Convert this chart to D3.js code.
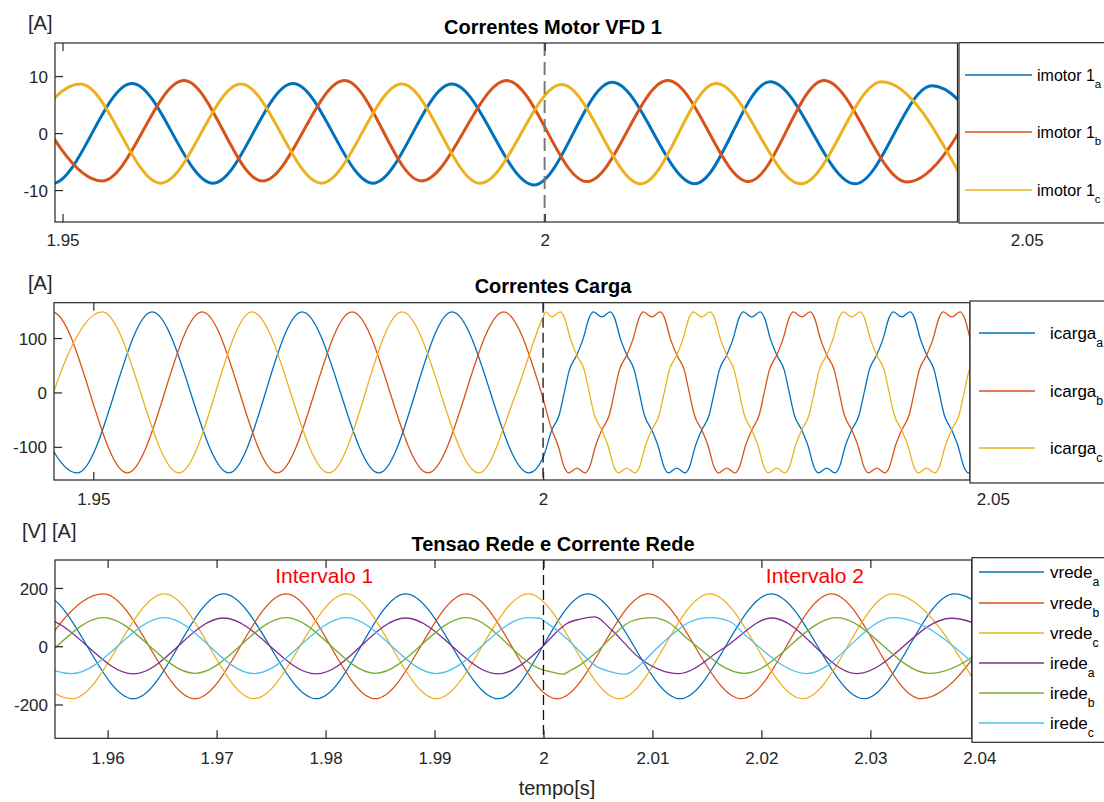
<!DOCTYPE html>
<html><head><meta charset="utf-8">
<script src="https://cdn.jsdelivr.net/npm/d3@7"></script>
<style>
html,body{margin:0;padding:0;background:#fff;}
svg{display:block;font-family:"Liberation Sans",Arial,Helvetica,sans-serif;}
</style></head><body>
<svg id="chart" width="1104" height="802"></svg>
<script>
// ---------------- DATA (time [s], value) ----------------
const motorXTicks = [1.95, 2, 2.05];
const motorYTicks = [-10, 0, 10];
const cargaXTicks = [1.95, 2, 2.05];
const cargaYTicks = [-100, 0, 100];
const redeXTicks = [1.96, 1.97, 1.98, 1.99, 2, 2.01, 2.02, 2.03, 2.04];
const redeYTicks = [-200, 0, 200];
const phaseSubs = ["a", "b", "c"];

// Correntes Motor VFD 1 (peaks / troughs)
const imotorA = [[1.94055,8.7],[1.94888,-8.9],[1.95720,8.7],[1.96560,-8.8],[1.97390,8.7],[1.98220,-8.8],[1.99037,8.6],[1.99890,-9.1],[2.00700,8.9],[2.01557,-8.9],[2.02338,9.0],[2.03220,-8.9],[2.04018,8.3],[2.04850,-8.9]];
const imotorB = [[1.94576,9.0],[1.95409,-8.4],[1.96260,9.2],[1.97074,-8.4],[1.97925,9.2],[1.98722,-8.4],[1.99610,9.2],[2.00438,-8.5],[2.01277,9.2],[2.02116,-8.5],[2.02898,9.2],[2.03759,-8.6],[2.04590,9.0]];
const imotorC = [[1.94352,-8.8],[1.95185,8.6],[1.96018,-8.8],[1.96850,8.6],[1.97685,-8.8],[1.98519,8.6],[1.99330,-8.8],[2.00176,8.5],[2.00997,-8.9],[2.01778,8.7],[2.02658,-8.9],[2.03497,9.0],[2.04360,-8.9]];

// Correntes Carga
const icargaA = [[1.93988,148],[1.94821,-148],[1.95654,148],[1.96508,-148],[1.97321,148],[1.98174,-148],[1.98988,148],[1.99841,-148],[2.00000,-120],
[2.00097,-69],[2.00180,-41],
[2.00236,0],[2.00292,41],[2.00375,69],[2.00444,98],[2.00514,138],[2.00560,148],[2.00653,139],[2.00745,148],[2.00792,138],[2.00861,98],[2.00930,69],[2.01014,41],
[2.01069,0],[2.01125,-41],[2.01208,-69],[2.01278,-98],[2.01347,-138],[2.01393,-148],[2.01486,-139],[2.01579,-148],[2.01625,-138],[2.01694,-98],[2.01764,-69],[2.01847,-41],
[2.01903,0],[2.01959,41],[2.02042,69],[2.02111,98],[2.02181,138],[2.02227,148],[2.02320,139],[2.02412,148],[2.02459,138],[2.02528,98],[2.02597,69],[2.02681,41],
[2.02736,0],[2.02792,-41],[2.02875,-69],[2.02945,-98],[2.03014,-138],[2.03060,-148],[2.03153,-139],[2.03246,-148],[2.03292,-138],[2.03361,-98],[2.03431,-69],[2.03514,-41],
[2.03570,0],[2.03626,41],[2.03709,69],[2.03778,98],[2.03848,138],[2.03894,148],[2.03987,139],[2.04079,148],[2.04126,138],[2.04195,98],[2.04264,69],[2.04348,41],
[2.04403,0],[2.04459,-41],[2.04542,-69],[2.04612,-98],[2.04681,-138],[2.04727,-148],[2.04820,-139]];
const icargaB = [[1.93710,-148],[1.94543,148],[1.95377,-148],[1.96210,148],[1.97043,-148],[1.97877,148],[1.98720,-148],[1.99563,148],[1.99980,0],
[2.00098,-69],[2.00167,-98],[2.00237,-138],[2.00283,-148],[2.00376,-139],[2.00468,-148],[2.00515,-138],[2.00584,-98],[2.00653,-69],[2.00737,-41],
[2.00792,0],[2.00848,41],[2.00931,69],[2.01000,98],[2.01070,138],[2.01116,148],[2.01209,139],[2.01301,148],[2.01348,138],[2.01417,98],[2.01486,69],[2.01570,41],
[2.01625,0],[2.01681,-41],[2.01764,-69],[2.01834,-98],[2.01903,-138],[2.01949,-148],[2.02042,-139],[2.02135,-148],[2.02181,-138],[2.02250,-98],[2.02320,-69],[2.02403,-41],
[2.02459,0],[2.02515,41],[2.02598,69],[2.02667,98],[2.02737,138],[2.02783,148],[2.02876,139],[2.02968,148],[2.03015,138],[2.03084,98],[2.03153,69],[2.03237,41],
[2.03292,0],[2.03348,-41],[2.03431,-69],[2.03501,-98],[2.03570,-138],[2.03616,-148],[2.03709,-139],[2.03802,-148],[2.03848,-138],[2.03917,-98],[2.03987,-69],[2.04070,-41],
[2.04126,0],[2.04182,41],[2.04265,69],[2.04334,98],[2.04404,138],[2.04450,148],[2.04543,139],[2.04635,148],[2.04682,138],[2.04751,98],[2.04820,69]];
const icargaC = [[1.94266,-148],[1.95099,148],[1.95952,-148],[1.96766,148],[1.97619,-148],[1.98432,148],[1.99286,-148],[1.99703,0],[2.00000,138],
[2.00030,148],[2.00097,139],[2.00189,148],[2.00236,138],[2.00305,98],[2.00374,69],[2.00458,41],
[2.00513,0],[2.00569,-41],[2.00652,-69],[2.00722,-98],[2.00791,-138],[2.00837,-148],[2.00930,-139],[2.01023,-148],[2.01069,-138],[2.01138,-98],[2.01208,-69],[2.01291,-41],
[2.01347,0],[2.01403,41],[2.01486,69],[2.01555,98],[2.01625,138],[2.01671,148],[2.01764,139],[2.01856,148],[2.01903,138],[2.01972,98],[2.02041,69],[2.02125,41],
[2.02180,0],[2.02236,-41],[2.02319,-69],[2.02389,-98],[2.02458,-138],[2.02504,-148],[2.02597,-139],[2.02690,-148],[2.02736,-138],[2.02805,-98],[2.02875,-69],[2.02958,-41],
[2.03014,0],[2.03070,41],[2.03153,69],[2.03222,98],[2.03292,138],[2.03338,148],[2.03431,139],[2.03523,148],[2.03570,138],[2.03639,98],[2.03708,69],[2.03792,41],
[2.03847,0],[2.03903,-41],[2.03986,-69],[2.04056,-98],[2.04125,-138],[2.04171,-148],[2.04264,-139],[2.04357,-148],[2.04403,-138],[2.04472,-98],[2.04542,-69],[2.04625,-41],
[2.04681,0],[2.04737,41],[2.04820,69]];

// Tensao Rede e Corrente Rede
const vredeA = [[1.94555,-180],[1.95390,180],[1.96235,-180],[1.97063,180],[1.97915,-180],[1.98735,180],[1.99584,-180],[2.00406,180],[2.01254,-180],[2.02090,180],[2.02942,-180],[2.03770,180],[2.04610,-180]];
const vredeB = [[1.95125,-180],[1.95960,180],[1.96801,-180],[1.97637,180],[1.98456,-180],[1.99291,180],[2.00125,-180],[2.00961,180],[2.01817,-180],[2.02643,180],[2.03465,-180],[2.04310,180]];
const vredeC = [[1.94840,180],[1.95671,-180],[1.96520,180],[1.97342,-180],[1.98190,180],[1.99016,-180],[1.99860,180],[2.00695,-180],[2.01525,180],[2.02379,-180],[2.03204,180],[2.04050,-180]];
const iredeA = [[1.94555,-95],[1.95390,96],[1.96235,-95],[1.97063,97],[1.97915,-95],[1.98735,97],[1.99584,-95],[2.00000,2],[2.00123,50],[2.00215,78],[2.00337,93],[2.00474,101],[2.00612,61],[2.00887,-42],[2.01240,-94],[2.01651,-7],[2.02095,97],[2.02875,-94],[2.03740,96],[2.04570,-94]];
const iredeB = [[1.94290,98],[1.95125,-93],[1.95960,98],[1.96801,-93],[1.97637,98],[1.98456,-93],[1.99291,98],[2.00000,-82],[2.00061,-87],[2.00184,-96],[2.00230,-87],[2.00337,-64],[2.00490,-19],[2.00643,38],[2.00796,84],[2.00990,98],[2.01163,78],[2.01316,27],[2.01468,-19],[2.01621,-64],[2.01840,-93],[2.02691,98],[2.03540,-93],[2.04360,98]];
const iredeC = [[1.94840,98],[1.95671,-94],[1.96520,98],[1.97342,-94],[1.98190,98],[1.99016,-94],[1.99860,98],[1.99969,96],[2.00015,84],[2.00122,56],[2.00245,15],[2.00367,-30],[2.00490,-70],[2.00612,-87],[2.00749,-96],[2.00795,-90],[2.00918,-53],[2.01040,-7],[2.01193,44],[2.01346,84],[2.01529,98],[2.01713,84],[2.01866,33],[2.02416,-94],[2.03211,98],[2.04050,-94]];

const annotations = [{text: "Intervalo 1", t: 1.97988, v: 217}, {text: "Intervalo 2", t: 2.02491, v: 217}];
const switchTime = 2;

// ---------------- STYLE / LAYOUT ----------------
const C = ["#0072BD", "#D95319", "#EDB120", "#7E2F8E", "#77AC30", "#4DBEEE"];
const AX = "#262626";
const svg = d3.select("#chart");
svg.append("rect").attr("width", 1104).attr("height", 802).attr("fill", "#fff");

const panels = [
  { id: "p1", title: "Correntes Motor VFD 1", titleY: 34, unit: "[A]", unitX: 28, unitY: 30,
    left: 55, right: 957.5, top: 43, bottom: 222,
    xDomain: [1.94922, 2.04282], yDomain: [-15.6, 15.8],
    xTicks: motorXTicks, yTicks: motorYTicks, labelPad: 12,
    lineWidth: 3, dash: {color: "#7a7a7a", width: 2, array: "13,6"},
    series: [imotorA, imotorB, imotorC].map((d, i) => ({data: d, name: "imotor 1", sub: phaseSubs[i], color: C[i]})),
    legend: {left: 959, top: 42.7, bottom: 223, x1: 965, x2: 1032, tx: 1037, rows: [75, 132, 190], fs: 16} },
  { id: "p2", title: "Correntes Carga", titleY: 293, unit: "[A]", unitX: 28, unitY: 290,
    left: 54, right: 970, top: 302.7, bottom: 480,
    xDomain: [1.94563, 2.04746], yDomain: [-161, 165],
    xTicks: cargaXTicks, yTicks: cargaYTicks, labelPad: 13,
    lineWidth: 1.3, dash: {color: "#111", width: 1.3, array: "10,5"},
    series: [icargaA, icargaB, icargaC].map((d, i) => ({data: d, name: "icarga", sub: phaseSubs[i], color: C[i]})),
    legend: {left: 970, top: 301, bottom: 483, x1: 979, x2: 1035, tx: 1050, rows: [333, 391, 448], fs: 17} },
  { id: "p3", title: "Tensao Rede e Corrente Rede", titleY: 551, unit: "[V] [A]", unitX: 22, unitY: 538,
    left: 55, right: 971.7, top: 560, bottom: 738.3,
    xDomain: [1.95517, 2.03930], yDomain: [-316, 296],
    xTicks: redeXTicks, yTicks: redeYTicks, labelPad: 14,
    lineWidth: 1.3, dash: {color: "#111", width: 1.3, array: "10,5"},
    series: [vredeA, vredeB, vredeC, iredeA, iredeB, iredeC].map((d, i) => ({data: d, name: i < 3 ? "vrede" : "irede", sub: phaseSubs[i % 3], color: C[i]})),
    legend: {left: 972, top: 557.7, bottom: 742.3, x1: 979, x2: 1044, tx: 1050, rows: [572, 603, 633, 663, 693, 723], fs: 17},
    annotations: annotations }
];

const TICK = 8, TICK_FS = 17;

panels.forEach(p => {
  const x = d3.scaleLinear().domain(p.xDomain).range([p.left, p.right]);
  const y = d3.scaleLinear().domain(p.yDomain).range([p.bottom, p.top]);
  const defs = svg.append("defs");
  defs.append("clipPath").attr("id", "clip-" + p.id).append("rect")
    .attr("x", p.left).attr("y", p.top).attr("width", p.right - p.left).attr("height", p.bottom - p.top);

  const g = svg.append("g").attr("clip-path", `url(#clip-${p.id})`);
  const line = d3.line().x(d => x(d[0])).y(d => y(d[1])).curve(d3.curveMonotoneX);
  p.series.forEach(s => {
    g.append("path").datum(s.data).attr("d", line)
      .attr("fill", "none").attr("stroke", s.color).attr("stroke-width", p.lineWidth)
      .attr("stroke-linejoin", "round");
  });

  // dashed marker at switching time
  svg.append("line").attr("x1", x(switchTime)).attr("x2", x(switchTime))
    .attr("y1", p.top).attr("y2", p.bottom)
    .attr("stroke", p.dash.color).attr("stroke-width", p.dash.width).attr("stroke-dasharray", p.dash.array);

  // box
  svg.append("rect").attr("x", p.left).attr("y", p.top).attr("width", p.right - p.left).attr("height", p.bottom - p.top)
    .attr("fill", "none").attr("stroke", AX).attr("stroke-width", 1.2);

  // axes
  const fmt = d => String(d);
  const xb = svg.append("g").attr("transform", `translate(0,${p.bottom})`)
    .call(d3.axisBottom(x).tickValues(p.xTicks).tickSizeInner(-TICK).tickSizeOuter(0).tickPadding(p.labelPad).tickFormat(fmt));
  const xt = svg.append("g").attr("transform", `translate(0,${p.top})`)
    .call(d3.axisTop(x).tickValues(p.xTicks).tickSizeInner(-TICK).tickSizeOuter(0).tickFormat(""));
  const yl = svg.append("g").attr("transform", `translate(${p.left},0)`)
    .call(d3.axisLeft(y).tickValues(p.yTicks).tickSizeInner(-TICK).tickSizeOuter(0).tickPadding(7).tickFormat(fmt));
  [xb, xt, yl].forEach(a => {
    a.select(".domain").remove();
    a.selectAll(".tick line").attr("stroke", AX).attr("stroke-width", 1.2);
    a.selectAll(".tick text").attr("fill", AX).attr("font-size", TICK_FS).attr("font-family", "Liberation Sans, Arial, sans-serif");
  });
  yl.selectAll(".tick text").attr("dy", "0.36em");

  // title and unit
  svg.append("text").attr("x", 553).attr("y", p.titleY).attr("text-anchor", "middle")
    .attr("font-weight", "bold").attr("font-size", 20).attr("fill", "#000").text(p.title);
  svg.append("text").attr("x", p.unitX).attr("y", p.unitY).attr("font-size", 20).attr("fill", AX).text(p.unit);

  // annotations
  (p.annotations || []).forEach(a => {
    svg.append("text").attr("x", x(a.t)).attr("y", y(a.v)).attr("text-anchor", "middle")
      .attr("font-size", 21).attr("fill", "#FF0000").text(a.text);
  });

  // legend
  const L = p.legend;
  svg.append("rect").attr("x", L.left).attr("y", L.top).attr("width", 1110 - L.left).attr("height", L.bottom - L.top)
    .attr("fill", "#fff").attr("stroke", AX).attr("stroke-width", 1.2);
  p.series.forEach((s, i) => {
    svg.append("line").attr("x1", L.x1).attr("x2", L.x2).attr("y1", L.rows[i]).attr("y2", L.rows[i])
      .attr("stroke", s.color).attr("stroke-width", 1.5);
    const t = svg.append("text").attr("x", L.tx).attr("y", L.rows[i] + L.fs * 0.36).attr("font-size", L.fs).attr("fill", "#000");
    t.append("tspan").text(s.name);
    t.append("tspan").attr("dy", L.fs * 0.45).attr("font-size", L.fs * 0.72).text(s.sub);
  });
});

svg.append("text").attr("x", 557).attr("y", 795).attr("text-anchor", "middle")
  .attr("font-size", 20).attr("fill", AX).text("tempo[s]");
</script>
</body></html>
